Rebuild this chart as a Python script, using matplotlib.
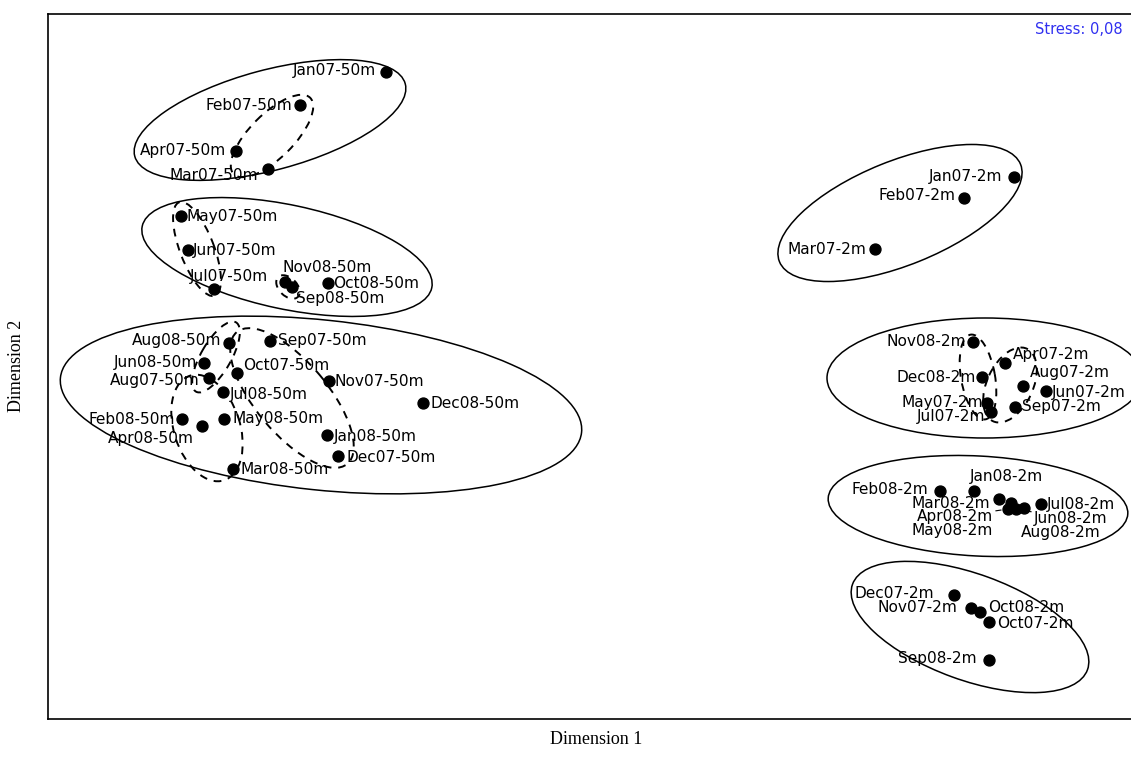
import matplotlib.pyplot as plt
from matplotlib.patches import Ellipse

# MDS coordinates (screen units, y grows downwards)
names_50m = ["Jan07-50m", "Feb07-50m", "Apr07-50m", "Mar07-50m",
             "May07-50m", "Jun07-50m", "Jul07-50m", "Nov08-50m", "Oct08-50m", "Sep08-50m",
             "Aug08-50m", "Sep07-50m", "Jun08-50m", "Aug07-50m", "Oct07-50m", "Jul08-50m",
             "Nov07-50m", "Dec08-50m", "Feb08-50m", "Apr08-50m", "May08-50m", "Jan08-50m",
             "Dec07-50m", "Mar08-50m"]
x_50m = [386, 300, 236, 268,
         181, 188, 214, 285, 328, 292,
         229, 270, 204, 209, 237, 223,
         329, 423, 182, 202, 224, 327,
         338, 233]
y_50m = [72, 105, 151, 169,
         216, 250, 289, 282, 283, 287,
         343, 341, 363, 378, 373, 392,
         381, 403, 419, 426, 419, 435,
         456, 469]

names_2m = ["Jan07-2m", "Feb07-2m", "Mar07-2m",
            "Nov08-2m", "Apr07-2m", "Dec08-2m", "Aug07-2m", "Jun07-2m", "May07-2m",
            "Jul07-2m", "Sep07-2m",
            "Jan08-2m", "Feb08-2m", "Mar08-2m", "Apr08-2m", "May08-2m", "Jun08-2m",
            "Aug08-2m", "Jul08-2m",
            "Dec07-2m", "Nov07-2m", "Oct08-2m", "Oct07-2m", "Sep08-2m"]
x_2m = [1014, 964, 875,
        973, 1005, 982, 1023, 1046, 987,
        991, 1015,
        974, 940, 999, 1008, 1011, 1016,
        1024, 1041,
        954, 971, 980, 989, 989]
y_2m = [177, 198, 249,
        342, 363, 377, 386, 391, 403,
        412, 407,
        491, 491, 499, 509, 503, 509,
        508, 504,
        595, 608, 612, 622, 660]

stress = "0,08"

# label placement: (dx, dy in pixels, screen down positive, alignment)
label_pos = {
    "Jan07-50m": (-10, -1, "right"), "Feb07-50m": (-8, 1, "right"),
    "Apr07-50m": (-10, 0, "right"), "Mar07-50m": (-10, 6, "right"),
    "May07-50m": (5, 0, "left"), "Jun07-50m": (5, 0, "left"),
    "Jul07-50m": (-24, -13, "left"), "Nov08-50m": (-3, -14, "left"),
    "Oct08-50m": (5, 1, "left"), "Sep08-50m": (4, 11, "left"),
    "Aug08-50m": (-8, -2, "right"), "Sep07-50m": (8, 0, "left"),
    "Jun08-50m": (-7, -1, "right"), "Aug07-50m": (-9, 2, "right"),
    "Oct07-50m": (6, -7, "left"), "Jul08-50m": (7, 2, "left"),
    "Nov07-50m": (6, 0, "left"), "Dec08-50m": (7, 0, "left"),
    "Feb08-50m": (-7, 0, "right"), "Apr08-50m": (-8, 12, "right"),
    "May08-50m": (8, 0, "left"), "Jan08-50m": (7, 1, "left"),
    "Dec07-50m": (8, 1, "left"), "Mar08-50m": (8, 0, "left"),
    "Jan07-2m": (-12, -1, "right"), "Feb07-2m": (-9, -3, "right"),
    "Mar07-2m": (-9, 0, "right"), "Nov08-2m": (-7, -1, "right"),
    "Apr07-2m": (8, -8, "left"), "Dec08-2m": (-6, 0, "right"),
    "Aug07-2m": (7, -14, "left"), "Jun07-2m": (6, 1, "left"),
    "May07-2m": (-4, -1, "right"), "Jul07-2m": (-6, 5, "right"),
    "Sep07-2m": (7, 0, "left"), "Jan08-2m": (-4, -14, "left"),
    "Feb08-2m": (-12, -1, "right"), "Mar08-2m": (-9, 4, "right"),
    "Apr08-2m": (-15, 8, "right"), "May08-2m": (-18, 27, "right"),
    "Jun08-2m": (18, 10, "left"), "Aug08-2m": (-3, 24, "left"),
    "Jul08-2m": (6, 0, "left"), "Dec07-2m": (-20, -1, "right"),
    "Nov07-2m": (-14, 0, "right"), "Oct08-2m": (8, -4, "left"),
    "Oct07-2m": (8, 1, "left"), "Sep08-2m": (-12, -1, "right"),
}
leaders = ["Apr08-2m", "Jun08-2m"]

# group outlines: centre x, centre y, width, height, angle
solid_groups = [(270, 120, 280, 100, -15), (287, 257, 296, 104, 12),
                (321, 405, 524, 170, 6), (900, 213, 260, 104, -22),
                (985, 378, 316, 120, 0), (978, 506, 300, 100, 3),
                (970, 627, 250, 106, 20)]
dashed_groups = [(272, 136, 108, 44, -45), (197, 249, 100, 34, 69),
                 (288, 287, 28, 18, 45), (216, 357, 80, 30, -60),
                 (292, 398, 172, 72, 50), (207, 428, 110, 66, 72),
                 (978, 377, 86, 34, 80), (1010, 385, 80, 46, -65)]

fig = plt.figure(figsize=(11.31, 7.58), dpi=100)
ax = fig.add_axes([48 / 1131, 39 / 758, (1136 - 48) / 1131, 705 / 758])
ax.set_xlim(48, 1136)
ax.set_ylim(719, 14)
ax.set_xticks([])
ax.set_yticks([])
for sp in ax.spines.values():
    sp.set_linewidth(1.2)

for cx, cy, w, h, a in solid_groups:
    ax.add_patch(Ellipse((cx, cy), w, h, angle=a, fill=False, lw=1.1, ec="black"))
for cx, cy, w, h, a in dashed_groups:
    ax.add_patch(Ellipse((cx, cy), w, h, angle=a, fill=False, lw=1.4, ec="black",
                         ls=(0, (4, 3.5))))

ax.scatter(x_50m + x_2m, y_50m + y_2m, s=62, color="black", zorder=3)

for nm, px, py in zip(names_50m + names_2m, x_50m + x_2m, y_50m + y_2m):
    dx, dy, ha = label_pos[nm]
    arrow = None
    if nm in leaders:
        arrow = dict(arrowstyle="-", lw=0.8, color="black", shrinkA=0, shrinkB=5)
    ax.annotate(nm, (px, py), xytext=(dx, -dy), textcoords="offset pixels",
                ha=ha, va="center", fontsize=11.1, family="DejaVu Sans",
                arrowprops=arrow, zorder=4)

fig.text(1123 / 1131, 1 - 30 / 758, "Stress: " + stress, ha="right", va="center",
         color="#3030f0", fontsize=10.5, family="DejaVu Sans")
fig.text(596 / 1131, 1 - 740 / 758, "Dimension 1", ha="center", va="center",
         fontsize=13, family="Liberation Serif")
fig.text(17 / 1131, 1 - 366 / 758, "Dimension 2", ha="center", va="center",
         rotation=90, fontsize=13, family="Liberation Serif")

fig.savefig("out.png", dpi=100)
